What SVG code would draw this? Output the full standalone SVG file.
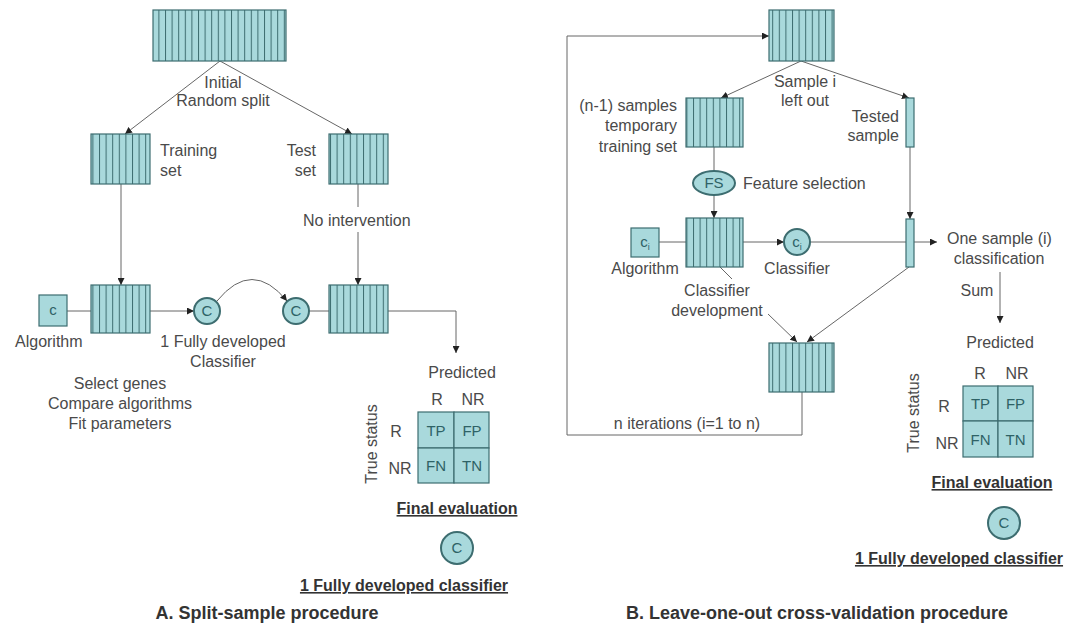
<svg xmlns="http://www.w3.org/2000/svg" width="1089" height="623" viewBox="0 0 1089 623">
<style>
text{font-family:"Liberation Sans",Arial,sans-serif;font-size:16px;fill:#4a4a4a}
.b{font-weight:bold;fill:#333}
.t{font-size:18px}
.u{text-decoration:underline}
.m{text-anchor:middle}
.e{text-anchor:end}
.st{fill:url(#stripes);stroke:#3d6d70;stroke-width:1.2}
.bx{fill:#a9d9dc;stroke:#3d6d70;stroke-width:1.2}
.cl{fill:#a9d9dc;stroke:#3d6d70;stroke-width:2}
.cell{fill:#a9d9dc;stroke:#3d6d70;stroke-width:1.2}
.ct{fill:#2e6266;text-anchor:middle;font-size:15px}
.ln{fill:none;stroke:#666;stroke-width:1}
.ar{fill:none;stroke:#666;stroke-width:1;marker-end:url(#ah)}
</style>
<defs>
<pattern id="stripes" patternUnits="userSpaceOnUse" width="6.6" height="10">
<rect width="6.6" height="10" fill="#a9d9dc"/>
<line x1="0.5" y1="0" x2="0.5" y2="10" stroke="#3d6d70" stroke-width="1"/>
</pattern>
<marker id="ah" viewBox="0 0 10 10" refX="10" refY="5" markerWidth="7" markerHeight="7" markerUnits="userSpaceOnUse" orient="auto">
<path d="M0,0 L10,5 L0,10 z" fill="#222"/>
</marker>
</defs>
<rect width="1089" height="623" fill="#fff"/>

<g id="connectors">
<line class="ar" x1="220" y1="61" x2="125" y2="134"/>
<line class="ar" x1="220" y1="61" x2="352" y2="134"/>
<line class="ar" x1="121" y1="184" x2="121" y2="285"/>
<line class="ln" x1="358" y1="184" x2="358" y2="207"/>
<line class="ar" x1="358" y1="232" x2="358" y2="285"/>
<line class="ln" x1="67" y1="311" x2="91" y2="311"/>
<line class="ar" x1="150" y1="311" x2="194" y2="311"/>
<path class="ar" d="M217,301 Q252,258 287,301"/>
<line class="ln" x1="309" y1="311" x2="329" y2="311"/>
<path class="ar" d="M388,311 H456 V353"/>
<path class="ar" d="M802,392 V435 H567 V36 H769"/>
<line class="ar" x1="801" y1="61" x2="721" y2="98"/>
<line class="ar" x1="801" y1="61" x2="909" y2="98"/>
<line class="ln" x1="714" y1="147" x2="714" y2="171"/>
<line class="ar" x1="714" y1="195" x2="714" y2="218"/>
<line class="ln" x1="659" y1="242" x2="686" y2="242"/>
<line class="ar" x1="743" y1="242" x2="784" y2="242"/>
<line class="ar" x1="810" y1="242" x2="937" y2="242"/>
<line class="ar" x1="910" y1="147" x2="910" y2="219"/>
<line class="ln" x1="720" y1="267" x2="732" y2="279"/>
<line class="ar" x1="768" y1="314" x2="797" y2="342"/>
<line class="ar" x1="909" y1="267" x2="807" y2="342"/>
<line class="ar" x1="1000" y1="272" x2="1000" y2="323"/>
</g>

<g id="A-top"><rect class="st" x="153" y="10" width="133" height="51"/></g>
<g id="A-training"><rect class="st" x="91" y="134" width="59" height="50"/></g>
<g id="A-test"><rect class="st" x="329" y="134" width="59" height="50"/></g>
<g id="A-algorithm"><rect class="bx" x="39" y="295" width="28" height="31"/><text class="ct" x="53" y="315">c</text></g>
<g id="A-training-row"><rect class="st" x="91" y="285" width="59" height="48"/></g>
<g id="A-classifier1"><circle class="cl" cx="207" cy="311" r="13"/><text class="ct" x="207" y="316">C</text></g>
<g id="A-classifier2"><circle class="cl" cx="296" cy="311" r="13"/><text class="ct" x="296" y="316">C</text></g>
<g id="A-test-row"><rect class="st" x="329" y="285" width="59" height="48"/></g>
<g id="A-matrix">
<rect class="cell" x="418" y="412" width="36" height="36"/>
<rect class="cell" x="454" y="412" width="35" height="36"/>
<rect class="cell" x="418" y="448" width="36" height="35"/>
<rect class="cell" x="454" y="448" width="35" height="35"/>
<text class="ct" x="436" y="436">TP</text><text class="ct" x="472" y="436">FP</text>
<text class="ct" x="436" y="471">FN</text><text class="ct" x="472" y="471">TN</text>
</g>
<g id="A-final"><circle class="cl" cx="457" cy="548" r="16"/><text class="ct" x="457" y="553">C</text></g>

<g id="B-top"><rect class="st" x="769" y="10" width="65" height="51"/></g>
<g id="B-training"><rect class="st" x="686" y="98" width="57" height="49"/></g>
<g id="B-tested"><rect class="bx" x="906" y="98" width="8" height="49"/></g>
<g id="B-fs"><ellipse class="cl" cx="714" cy="183" rx="21" ry="12"/><text class="ct" x="714" y="188">FS</text></g>
<g id="B-algorithm"><rect class="bx" x="631" y="228" width="28" height="29"/><text class="ct" x="645" y="247">c<tspan font-size="9" dy="3">i</tspan></text></g>
<g id="B-development"><rect class="st" x="686" y="218" width="57" height="49"/></g>
<g id="B-classifier"><circle class="cl" cx="797" cy="242" r="13"/><text class="ct" x="797" y="247">c<tspan font-size="9" dy="3">i</tspan></text></g>
<g id="B-tested2"><rect class="bx" x="906" y="219" width="8" height="48"/></g>
<g id="B-bottom"><rect class="st" x="769" y="343" width="65" height="49"/></g>
<g id="B-matrix">
<rect class="cell" x="963" y="386" width="35" height="35"/>
<rect class="cell" x="998" y="386" width="35" height="35"/>
<rect class="cell" x="963" y="421" width="35" height="36"/>
<rect class="cell" x="998" y="421" width="35" height="36"/>
<text class="ct" x="980.5" y="409">TP</text><text class="ct" x="1015.5" y="409">FP</text>
<text class="ct" x="980.5" y="445">FN</text><text class="ct" x="1015.5" y="445">TN</text>
</g>
<g id="B-final"><circle class="cl" cx="1004" cy="523" r="16"/><text class="ct" x="1004" y="528">C</text></g>

<g id="labels">
<text class="m" x="223" y="88">Initial</text>
<text class="m" x="223" y="106">Random split</text>
<text x="160" y="156">Training</text>
<text x="160" y="176">set</text>
<text class="e" x="316" y="156">Test</text>
<text class="e" x="316" y="176">set</text>
<text x="303" y="226">No intervention</text>
<text x="15" y="347">Algorithm</text>
<text class="m" x="223" y="347">1 Fully developed</text>
<text class="m" x="223" y="367">Classifier</text>
<text class="m" x="120" y="389">Select genes</text>
<text class="m" x="120" y="409">Compare algorithms</text>
<text class="m" x="120" y="429">Fit parameters</text>
<text class="m" x="462" y="378">Predicted</text>
<text class="m" x="437" y="405">R</text>
<text class="m" x="473" y="405">NR</text>
<text class="m" x="396" y="437">R</text>
<text class="m" x="400" y="474">NR</text>
<text class="m" transform="translate(377,444) rotate(-90)">True status</text>
<text class="m b u" x="457" y="514">Final evaluation</text>
<text class="m b u" x="404" y="591">1 Fully developed classifier</text>
<text class="m b t" x="267" y="619">A. Split-sample procedure</text>

<text class="m" x="805" y="87">Sample i</text>
<text class="m" x="805" y="106">left out</text>
<text class="e" x="677" y="111">(n-1) samples</text>
<text class="e" x="677" y="131">temporary</text>
<text class="e" x="677" y="152">training set</text>
<text class="e" x="899" y="122">Tested</text>
<text class="e" x="899" y="141">sample</text>
<text x="743" y="189">Feature selection</text>
<text class="m" x="645" y="274">Algorithm</text>
<text class="m" x="797" y="274">Classifier</text>
<text x="947" y="244">One sample (i)</text>
<text class="m" x="999" y="264">classification</text>
<text class="m" x="977" y="296">Sum</text>
<text class="m" x="717" y="296">Classifier</text>
<text class="m" x="717" y="316">development</text>
<text class="m" x="687" y="429">n iterations (i=1 to n)</text>
<text class="m" x="1000" y="348">Predicted</text>
<text class="m" x="980" y="379">R</text>
<text class="m" x="1017" y="379">NR</text>
<text class="m" x="944" y="412">R</text>
<text class="m" x="947" y="449">NR</text>
<text class="m" transform="translate(919,413) rotate(-90)">True status</text>
<text class="m b u" x="992" y="488">Final evaluation</text>
<text class="m b u" x="959" y="564">1 Fully developed classifier</text>
<text class="m b t" x="817" y="619">B. Leave-one-out cross-validation procedure</text>
</g>
</svg>
